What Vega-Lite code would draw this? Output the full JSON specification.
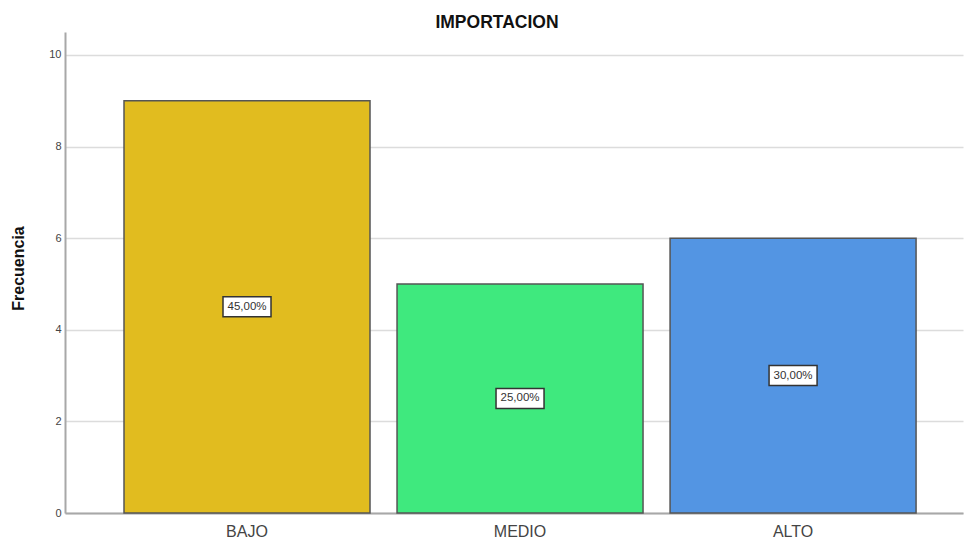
{
  "$schema": "https://vega.github.io/schema/vega-lite/v6.json",
  "autosize": {"type": "none"},
  "padding": {"left": 65, "top": 32, "right": 2, "bottom": 29},
  "width": 898,
  "height": 481,
  "background": "white",
  "config": {"view": {"stroke": null}},
  "title": {"text": "IMPORTACION", "fontSize": 17.5, "fontWeight": "bold", "font": "Liberation Sans", "color": "#111", "offset": 1, "dx": -17},
  "data": {"values": [
    {"cat": "BAJO", "n": 9, "pct": "45,00%"},
    {"cat": "MEDIO", "n": 5, "pct": "25,00%"},
    {"cat": "ALTO", "n": 6, "pct": "30,00%"}
  ]},
  "transform": [{"calculate": "datum.n / 2", "as": "mid"}],
  "encoding": {
    "x": {"field": "cat", "type": "nominal", "sort": ["BAJO", "MEDIO", "ALTO"],
      "scale": {"paddingInner": 0.099, "paddingOuter": 0.194, "align": 0.557},
      "axis": {"title": null, "labelAngle": 0, "labelFontSize": 16, "labelFont": "Liberation Sans", "labelColor": "#444", "ticks": false, "labelPadding": 10, "domainColor": "#a8a8a8", "domainWidth": 2, "grid": false}}
  },
  "layer": [
    {
      "mark": {"type": "bar", "stroke": "#555", "strokeWidth": 1.5},
      "encoding": {
        "y": {"field": "n", "type": "quantitative", "scale": {"domain": [0, 10.5], "nice": false},
          "axis": {"title": "Frecuencia", "titleFontSize": 16, "titleFont": "Liberation Sans", "titleFontWeight": "bold", "titleColor": "#111",
            "titleAngle": -90, "titleX": -47, "titleY": 236, "titleAlign": "center", "titleBaseline": "middle",
            "values": [0, 2, 4, 6, 8, 10], "labelFontSize": 11, "labelFont": "Liberation Sans", "labelColor": "#444", "labelPadding": 4,
            "ticks": false, "domainColor": "#a8a8a8", "domainWidth": 2, "gridColor": "#dcdcdc", "gridWidth": 1.5}},
        "color": {"field": "cat", "type": "nominal", "legend": null,
          "scale": {"domain": ["BAJO", "MEDIO", "ALTO"], "range": ["#E1BC1F", "#3FE97E", "#5395E3"]}}
      }
    },
    {
      "mark": {"type": "point", "shape": "M-1,-0.4167H1V0.4167H-1Z", "filled": true, "fill": "white", "stroke": "#333", "strokeWidth": 1.5, "opacity": 1, "size": 2304},
      "encoding": {"y": {"field": "mid", "type": "quantitative"}}
    },
    {
      "mark": {"type": "text", "fontSize": 11.5, "font": "Liberation Sans", "color": "#333"},
      "encoding": {"y": {"field": "mid", "type": "quantitative"}, "text": {"field": "pct"}}
    }
  ]
}
